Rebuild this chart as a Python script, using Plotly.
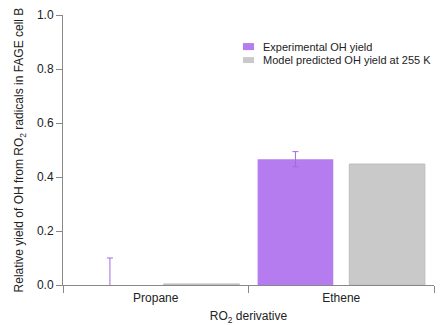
import plotly.graph_objects as go

categories = ["Propane", "Ethene"]
exp_yield = [0.0, 0.466]
exp_err = [0.10, 0.028]
model_yield = [0.004, 0.448]
legend_names = ["Experimental OH yield", "Model predicted OH yield at 255 K"]
colors = ["#b57cf0", "#c9c9c9"]

fig = go.Figure()
fig.add_trace(go.Bar(
    x=categories, y=exp_yield, name=legend_names[0],
    marker=dict(color=colors[0], line=dict(width=0)),
    error_y=dict(type="data", array=exp_err, color="#a26ae0", thickness=1, width=3),
))
fig.add_trace(go.Bar(
    x=categories, y=model_yield, name=legend_names[1],
    marker=dict(color=colors[1], line=dict(color="#bdbdbd", width=1)),
))

# manual legend (compact spacing like the reference)
sw = [(0.896, 0.870, 0.883), (0.844, 0.822, 0.833)]
for (y1, y0, yc), name, c in zip(sw, legend_names, colors):
    fig.add_shape(type="rect", xref="paper", yref="paper",
                  x0=0.485, x1=0.515, y0=y0, y1=y1,
                  fillcolor=c, line=dict(width=0))
    fig.add_annotation(xref="paper", yref="paper", x=0.535, y=yc,
                       text=name, showarrow=False, xanchor="left", yanchor="middle",
                       font=dict(size=11, color="#222"))

font = dict(family="Liberation Sans, Arial, sans-serif", size=12, color="#222")
fig.update_layout(
    width=444, height=325,
    margin=dict(l=63, r=10, t=15, b=40),
    paper_bgcolor="white", plot_bgcolor="white",
    font=font,
    barmode="group", bargap=0.012, bargroupgap=0.1745,
    showlegend=False,
)
fig.update_yaxes(
    range=[0, 1.0], tickvals=[0, 0.2, 0.4, 0.6, 0.8, 1.0],
    tickformat=".1f", ticks="outside", ticklen=6, tickcolor="#888",
    showline=True, linecolor="#888", linewidth=1, showgrid=False, zeroline=False,
    automargin=False,
    title=dict(text="Relative yield of OH from RO<sub>2</sub> radicals in FAGE cell B",
               font=dict(size=12), standoff=10),
)
fig.update_xaxes(
    ticks="outside", tickson="boundaries", ticklen=7, tickcolor="#888",
    showline=True, linecolor="#888", linewidth=1, showgrid=False,
    automargin=False, ticklabelstandoff=2,
    title=dict(text="RO<sub>2</sub> derivative", font=dict(size=12), standoff=11),
)
fig.write_html("out.html")
